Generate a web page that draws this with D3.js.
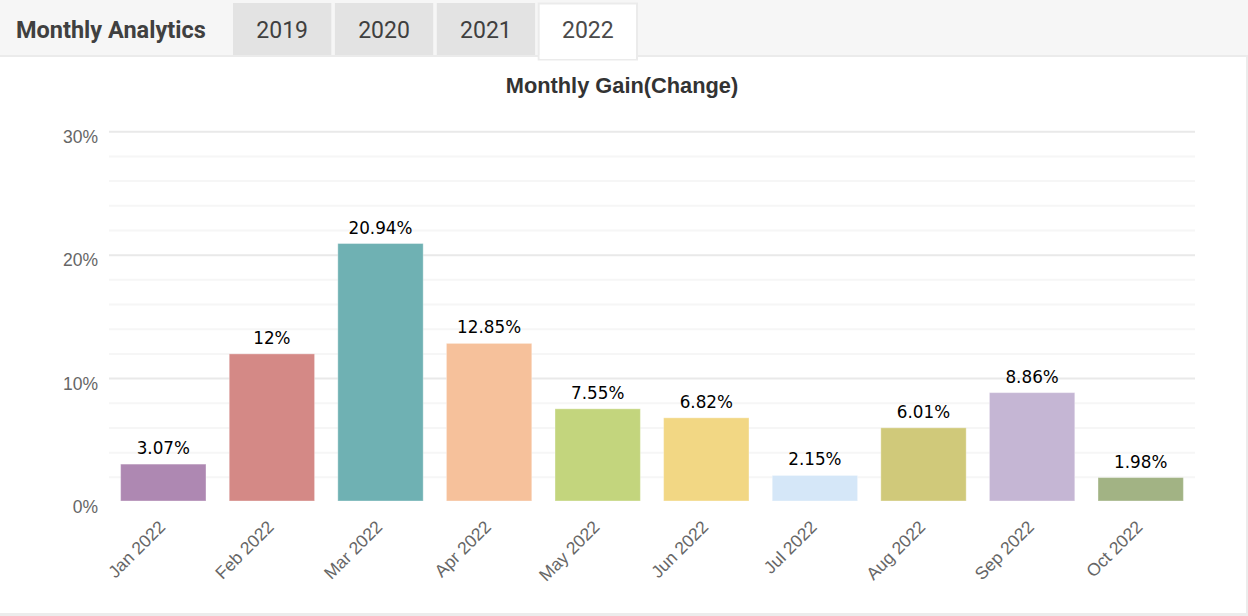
<!DOCTYPE html>
<html>
<head>
<meta charset="utf-8">
<script src="https://cdn.jsdelivr.net/npm/d3@7/dist/d3.min.js"></script>
<style>
  html, body { margin: 0; padding: 0; background: #fff; }
  svg { display: block; }
</style>
</head>
<body>
<svg id="chart" width="1248" height="616"></svg>
<script>
const categories = ["Jan 2022","Feb 2022","Mar 2022","Apr 2022","May 2022","Jun 2022","Jul 2022","Aug 2022","Sep 2022","Oct 2022"];
const gains = [3.07, 12, 20.94, 12.85, 7.55, 6.82, 2.15, 6.01, 8.86, 1.98];
const valueLabels = ["3.07%","12%","20.94%","12.85%","7.55%","6.82%","2.15%","6.01%","8.86%","1.98%"];
const barColors = ["#ae88b2","#d48986","#6fb1b3","#f6c19b","#c3d57d","#f2d784","#d5e7f8","#d0c97a","#c5b6d4","#a2b384"];
const yTicks = [0, 10, 20, 30];
const yMinorTicks = [2,4,6,8,12,14,16,18,22,24,26,28];
const tabs = ["2019","2020","2021","2022"];
const activeTab = "2022";
const headerTitle = "Monthly Analytics";
const chartTitle = "Monthly Gain(Change)";

const svg = d3.select("#chart");
const W = 1248, H = 616;

// header
svg.append("rect").attr("x",0).attr("y",0).attr("width",W).attr("height",56).attr("fill","#f6f6f6");
svg.append("line").attr("x1",0).attr("x2",W).attr("y1",56).attr("y2",56).attr("stroke","#ebebeb").attr("stroke-width",2);
svg.append("text").attr("x",16).attr("y",37.5).text(headerTitle)
  .attr("font-family","Roboto").attr("font-weight",700).attr("font-size",23.5).attr("fill","#404040");

const tabX = d3.scaleBand().domain(tabs).range([233, 637]).paddingInner(0.035);
tabs.forEach(t => {
  const x = tabX(t), w = tabX.bandwidth();
  if (t === activeTab) {
    svg.append("rect").attr("x",x).attr("y",3.5).attr("width",w).attr("height",56)
      .attr("fill","#fff").attr("stroke","#ebebeb").attr("stroke-width",2);
    svg.append("rect").attr("x",x+1).attr("y",55).attr("width",w-2).attr("height",4).attr("fill","#fff");
  } else {
    svg.append("rect").attr("x",x).attr("y",3).attr("width",w).attr("height",52).attr("fill","#e3e3e3");
  }
  svg.append("text").attr("x",x + w/2).attr("y",37.5).attr("text-anchor","middle").text(t)
    .attr("font-family","Roboto").attr("font-size",23).attr("fill", t===activeTab ? "#4a4a4a" : "#3f3f3f");
});

// panel borders
svg.append("line").attr("x1",1247).attr("x2",1247).attr("y1",57).attr("y2",H).attr("stroke","#ececec").attr("stroke-width",2);
svg.append("line").attr("x1",0).attr("x2",W).attr("y1",614.5).attr("y2",614.5).attr("stroke","#ececec").attr("stroke-width",3);

// chart title
svg.append("text").attr("x",622).attr("y",93).attr("text-anchor","middle").text(chartTitle)
  .attr("font-family","Liberation Sans, Arial, sans-serif").attr("font-weight","bold").attr("font-size",21.8).attr("fill","#333");

// scales
const x = d3.scaleBand().domain(categories).range([109, 1195]).paddingInner(0.214).paddingOuter(0.107);
const y = d3.scaleLinear().domain([0, 30]).range([502, 131.7]);

// gridlines
const g = svg.append("g");
g.selectAll("line.minor").data(yMinorTicks).join("line").attr("class","minor")
  .attr("x1",109).attr("x2",1195).attr("y1",d=>y(d)).attr("y2",d=>y(d))
  .attr("stroke","#f6f6f6").attr("stroke-width",2);
g.selectAll("line.major").data(yTicks.filter(d=>d>0)).join("line").attr("class","major")
  .attr("x1",109).attr("x2",1195).attr("y1",d=>y(d)).attr("y2",d=>y(d))
  .attr("stroke","#e9e9e9").attr("stroke-width",2);

// y axis labels
const yAxis = d3.axisLeft(y).tickValues(yTicks).tickFormat(d => d + "%").tickSize(0).tickPadding(0);
const ya = svg.append("g").attr("transform","translate(98,0)").call(yAxis);
ya.select(".domain").remove();
ya.selectAll("text").attr("font-family","Liberation Sans, Arial, sans-serif").attr("font-size",17.5)
  .attr("fill","#666").attr("dy",null).attr("y",10.5);

// bars
svg.append("g").selectAll("rect").data(gains).join("rect")
  .attr("x",(d,i)=>x(categories[i])).attr("width",x.bandwidth())
  .attr("y",d=>y(d)).attr("height",d=>y(0)-y(d)-1)
  .attr("fill",(d,i)=>barColors[i])
  .attr("stroke","rgba(255,255,255,0.35)").attr("stroke-width",1);

// value labels
svg.append("g").selectAll("text").data(gains).join("text")
  .attr("x",(d,i)=>x(categories[i]) + x.bandwidth()/2).attr("y",d=>y(d)-10)
  .attr("text-anchor","middle").text((d,i)=>valueLabels[i])
  .attr("font-family","DejaVu Sans, sans-serif").attr("font-size",16.8).attr("fill","#000");

// x axis labels
const xAxis = d3.axisBottom(x).tickSize(0).tickPadding(0);
const xa = svg.append("g").call(xAxis);
xa.select(".domain").remove();
xa.selectAll(".tick").attr("transform", d => `translate(${x(d) + x.bandwidth()/2 + 3},528)`);
xa.selectAll("text").attr("font-family","Liberation Sans, Arial, sans-serif").attr("font-size",17.5)
  .attr("fill","#666").attr("y",0).attr("dy",null).attr("text-anchor","end")
  .attr("transform","rotate(-45)");
</script>
</body>
</html>
